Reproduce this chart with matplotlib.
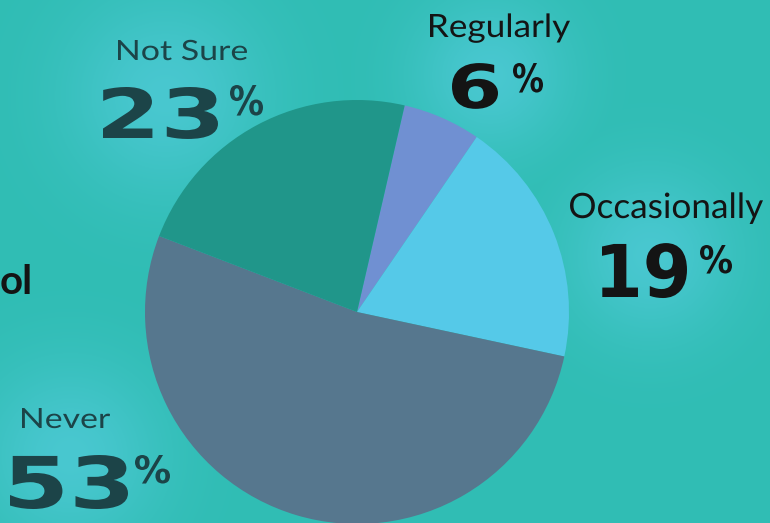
import numpy as np
import matplotlib.pyplot as plt
from matplotlib.textpath import TextPath
from matplotlib.font_manager import FontProperties
from matplotlib.patheffects import AbstractPathEffect
from matplotlib.transforms import Affine2D

labels = ['Regularly', 'Occasionally', 'Never', 'Not Sure']
values = [6, 19, 53, 23]
colors = ['#7090d2', '#55c9e8', '#56778e', '#20968a']

bg = '#30bdb4'
W, H = 770, 523


class HStretch(AbstractPathEffect):
    # widen the text horizontally around its anchor (display coords)
    def __init__(self, x0, sx):
        super().__init__()
        self.x0 = x0
        self.sx = sx

    def draw_path(self, renderer, gc, tpath, affine, rgbFace=None):
        t = affine + Affine2D().translate(-self.x0, 0).scale(self.sx, 1).translate(self.x0, 0)
        renderer.draw_path(gc, tpath, t, rgbFace)


fig = plt.figure(figsize=(7.7, 5.23), dpi=100)
fig.patch.set_facecolor(bg)
ax = fig.add_axes([0, 0, 1, 1])
ax.set_facecolor(bg)

# soft glow behind the labels
yy, xx = np.mgrid[0:H, 0:W]
glow = np.zeros((H, W, 4))
glow[..., 0] = 0x62 / 255
glow[..., 1] = 0xd2 / 255
glow[..., 2] = 0xec / 255
a = np.zeros((H, W))
for gx, gy, r in [(165, 95, 70), (490, 75, 55), (650, 255, 60), (70, 455, 65)]:
    a = np.maximum(a, 0.5 * np.exp(-((xx - gx) ** 2 + (yy - gy) ** 2) / (2 * r ** 2)))
glow[..., 3] = a
ax.imshow(glow, extent=(0, W, H, 0), zorder=0)

# pie (y axis is inverted, so counterclock=True runs clockwise on screen)
ax.pie(values, colors=colors, center=(357, 312), radius=212,
       startangle=-77, counterclock=True, normalize=True,
       wedgeprops=dict(linewidth=0), frame=True)
ax.set_xlim(0, W)
ax.set_ylim(H, 0)
ax.set_aspect('equal')
ax.axis('off')


def fit_text(s, x0, w, base, cap, family, weight, color, ref='H'):
    # real text, sized by cap height and stretched to the ink width
    prop = FontProperties(family=family, weight=weight)
    capem = TextPath((0, 0), ref, size=1, prop=prop).get_extents().y1
    ext = TextPath((0, 0), s, size=1, prop=prop).get_extents()
    em = cap / capem
    sx = w / ((ext.x1 - ext.x0) * em)
    ax_x = x0 - ext.x0 * em * sx
    disp_x = ax.transData.transform((ax_x, base))[0]
    ax.text(ax_x, base, s, ha='left', va='baseline', fontsize=em * 72 / 100,
            family=family, fontweight=weight, color=color, zorder=5,
            path_effects=[HStretch(disp_x, sx)])


dark_teal = '#1c4448'
black = '#141414'
# name box, number box, percent box: (x0, width, baseline, cap height)
spec = {
    'Not Sure': ((118, 129, 60, 20), (103, 115, 138, 51), (230, 33, 115, 30), dark_teal),
    'Regularly': ((430, 140, 37, 23), (452, 46, 108, 45), (513, 30, 92, 29), black),
    'Occasionally': ((570, 193, 218, 25), (602, 85, 297, 54), (700, 32, 273, 28), black),
    'Never': ((22, 88, 428, 20), (10, 118, 508, 53), (135, 35, 483, 28), dark_teal),
}
for lab, v in zip(labels, values):
    nb, vb, pb, c = spec[lab]
    fit_text(lab, *nb, 'Lato', 'normal', c)
    fit_text(str(v), *vb, 'DejaVu Sans', 'bold', c, ref='0')
    fit_text('%', *pb, 'DejaVu Sans', 'bold', c, ref='%')

ax.text(0, 294, 'ol', ha='left', va='baseline', fontsize=29,
        family='Lato', fontweight='bold', color=black)

fig.savefig('out.png', dpi=100, facecolor=bg)
